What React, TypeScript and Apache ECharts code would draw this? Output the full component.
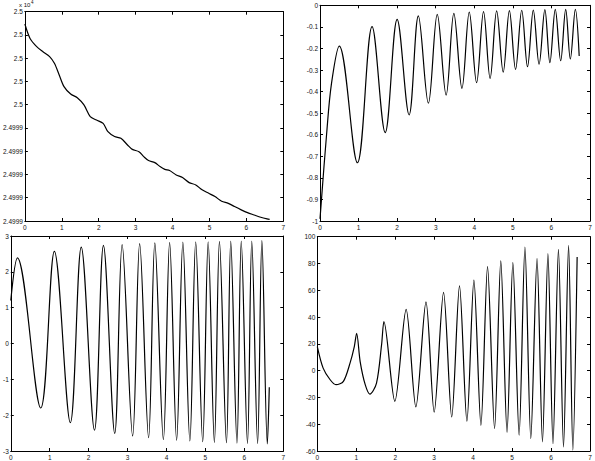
import React, { useEffect, useRef } from "react";
import * as echarts from "echarts";

// Top-left: slow decay (offset above 2.4999e4, one tick = 0.1)
const tlX = [0, 0.14, 0.32, 0.49, 0.67, 0.8, 0.93, 1.06, 1.24, 1.42, 1.6, 1.77, 1.94, 2.12, 2.25, 2.43, 2.6, 2.78, 2.91, 3.09, 3.22, 3.35, 3.52, 3.66, 3.79, 3.92, 4.1, 4.27, 4.45, 4.63, 4.8, 4.98, 5.15, 5.33, 5.51, 5.68, 5.86, 6.03, 6.21, 6.39, 6.56, 6.63];
const tlY = [0.847, 0.785, 0.75, 0.728, 0.707, 0.678, 0.628, 0.578, 0.546, 0.53, 0.499, 0.449, 0.434, 0.42, 0.384, 0.363, 0.356, 0.327, 0.308, 0.298, 0.277, 0.26, 0.251, 0.234, 0.222, 0.217, 0.198, 0.187, 0.165, 0.155, 0.134, 0.119, 0.105, 0.085, 0.076, 0.062, 0.048, 0.036, 0.026, 0.016, 0.009, 0.007];
const tlYLabels = ["2.4999", "2.4999", "2.4999", "2.4999", "2.4999", "2.5", "2.5", "2.5", "2.5", "2.5"];

// Top-right
const trX = [0, 0.17, 0.3, 0.5, 0.97, 1.35, 1.69, 2.0, 2.31, 2.55, 2.81, 3.04, 3.27, 3.47, 3.68, 3.87, 4.06, 4.24, 4.41, 4.58, 4.75, 4.91, 5.07, 5.23, 5.38, 5.53, 5.68, 5.83, 5.96, 6.1, 6.24, 6.37, 6.49, 6.62, 6.72];
const trY = [-0.99, -0.6, -0.36, -0.189, -0.73, -0.099, -0.59, -0.065, -0.508, -0.049, -0.454, -0.042, -0.416, -0.037, -0.385, -0.032, -0.359, -0.029, -0.339, -0.026, -0.31, -0.025, -0.297, -0.023, -0.285, -0.022, -0.273, -0.02, -0.266, -0.019, -0.257, -0.019, -0.249, -0.019, -0.235];

// Bottom-left
const blX = [0, 0.17, 0.77, 1.12, 1.53, 1.81, 2.15, 2.38, 2.67, 2.86, 3.13, 3.31, 3.54, 3.7, 3.92, 4.08, 4.26, 4.42, 4.6, 4.75, 4.93, 5.07, 5.23, 5.36, 5.54, 5.65, 5.81, 5.92, 6.08, 6.19, 6.34, 6.45, 6.59, 6.64];
const blY = [1.2, 2.39, -1.8, 2.57, -2.21, 2.69, -2.42, 2.74, -2.51, 2.76, -2.58, 2.79, -2.63, 2.81, -2.68, 2.82, -2.7, 2.83, -2.72, 2.84, -2.74, 2.84, -2.76, 2.85, -2.77, 2.86, -2.78, 2.86, -2.79, 2.86, -2.79, 2.87, -2.8, -1.22];

// Bottom-right
const brX = [0, 0.15, 0.33, 0.48, 0.67, 0.84, 0.95, 1.01, 1.1, 1.23, 1.35, 1.52, 1.65, 1.71, 1.99, 2.28, 2.53, 2.79, 3.0, 3.24, 3.45, 3.65, 3.84, 4.02, 4.2, 4.37, 4.55, 4.71, 4.87, 5.02, 5.18, 5.33, 5.48, 5.64, 5.78, 5.92, 6.05, 6.19, 6.32, 6.45, 6.56, 6.67];
const brY = [18, 1.9, -6.8, -10.5, -8, 5.6, 18, 27.9, 6.8, -10.5, -17.5, -9.3, 19.3, 36.6, -22.9, 45.7, -27.1, 51.4, -31, 58.4, -34.6, 63.3, -37.8, 67.6, -40.8, 77.7, -43.2, 81.9, -46, 80.7, -48.2, 92.3, -50.7, 83.7, -53.2, 87.4, -54.6, 90.6, -57, 93.6, -59.3, 84.9];

const xTicks = [0, 7, 1];

const zip = (xs: number[], ys: number[]) => xs.map((x, i) => [x, ys[i]]);

const FONT = "'Liberation Sans', Arial, sans-serif";

export default function App() {
  const ref = useRef<HTMLDivElement>(null);
  useEffect(() => {
    if (!ref.current) return;
    const chart = echarts.init(ref.current, undefined, { renderer: "svg" });
    const grids = [
      { left: 18, right: 311.7, top: 11.7, bottom: 240 },
      { left: 320, right: 5, top: 5.3, bottom: 240 },
      { left: 9.3, right: 311.7, top: 236, bottom: 9 },
      { left: 317.3, right: 5, top: 236.7, bottom: 9 },
    ];
    const yCfg: any[] = [
      { min: 0, max: 0.9, interval: 0.1, formatter: (v: number) => tlYLabels[Math.round(v * 10)] },
      { min: -1, max: 0, interval: 0.1 },
      { min: -3, max: 3, interval: 1 },
      { min: -60, max: 100, interval: 20 },
    ];
    const lineStyle = { color: "#000", width: 1 };
    const label = { fontSize: 6.5, color: "#111", fontFamily: FONT, margin: 2 };
    const xAxis: any[] = [];
    const yAxis: any[] = [];
    grids.forEach((_, g) => {
      ["bottom", "top"].forEach((pos) => {
        xAxis.push({
          type: "value", gridIndex: g, position: pos, min: xTicks[0], max: xTicks[1], interval: xTicks[2],
          axisLine: { show: true, onZero: false, lineStyle },
          axisTick: { show: true, inside: true, length: 3, lineStyle },
          axisLabel: { ...label, show: pos === "bottom", margin: 3 },
          splitLine: { show: false },
        });
      });
      ["left", "right"].forEach((pos) => {
        const c = yCfg[g];
        yAxis.push({
          type: "value", gridIndex: g, position: pos, min: c.min, max: c.max, interval: c.interval,
          axisLine: { show: true, onZero: false, lineStyle },
          axisTick: { show: true, inside: true, length: 3, lineStyle },
          axisLabel: { ...label, show: pos === "left", formatter: c.formatter },
          splitLine: { show: false },
        });
      });
    });
    const mk = (g: number, data: number[][], smooth: number) => ({
      type: "line", xAxisIndex: g * 2, yAxisIndex: g * 2, data, smooth,
      showSymbol: false, symbol: "none", lineStyle: { color: "#000", width: 1.2 },
    });
    chart.setOption({
      animation: false,
      backgroundColor: "#fff",
      grid: grids,
      xAxis, yAxis,
      series: [
        mk(0, zip(tlX, tlY), 0.3),
        mk(1, zip(trX, trY), 0.36),
        mk(2, zip(blX, blY), 0.36),
        mk(3, zip(brX, brY), 0.3),
      ],
      graphic: [
        { type: "text", x: 19, y: 2, style: { text: "x 10", fontSize: 6, fontFamily: FONT, fill: "#111" } },
        { type: "text", x: 31, y: 0, style: { text: "4", fontSize: 4.5, fontFamily: FONT, fill: "#111" } },
      ],
    });
    return () => chart.dispose();
  }, []);
  return <div ref={ref} style={{ position: "absolute", left: 0, top: 0, width: 595, height: 461 }} />;
}
